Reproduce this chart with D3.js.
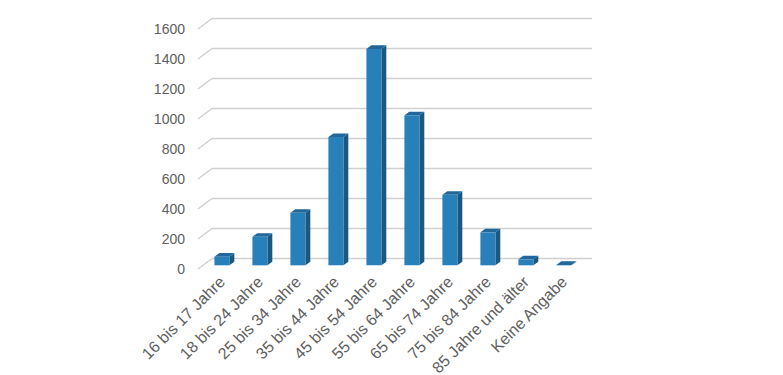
<!DOCTYPE html>
<html>
<head>
<meta charset="utf-8">
<title>Altersgruppen</title>
<style>
    body { margin: 0; background: #fff; }
    svg { display: block; font-family: "Liberation Sans", Arial, sans-serif; }
</style>
</head>
<body>
<div id="chart"></div>
<script src="https://cdn.jsdelivr.net/npm/d3@7"></script>
<script>
    // data
    var categories = ["16 bis 17 Jahre", "18 bis 24 Jahre", "25 bis 34 Jahre", "35 bis 44 Jahre",
        "45 bis 54 Jahre", "55 bis 64 Jahre", "65 bis 74 Jahre", "75 bis 84 Jahre",
        "85 Jahre und älter", "Keine Angabe"];
    var values = [57, 190, 350, 855, 1443, 1000, 470, 220, 40, 3];
    var yTicks = [0, 200, 400, 600, 800, 1000, 1200, 1400, 1600];

    var width = 783, height = 375;
    // front plane of the 3d box
    var left = 198, right = 578, zeroY = 269, plotH = 240;
    // depth offset from front to back wall
    var depthX = 14, depthY = -10.5;
    var zFront = 0.35, zBack = 0.7;

    var svg = d3.select("#chart").append("svg")
        .attr("width", width)
        .attr("height", height);

    var x = d3.scaleBand()
        .domain(categories)
        .range([left, right]);

    var y = d3.scaleLinear()
        .domain([0, 1600])
        .range([zeroY, zeroY - plotH]);

    // project point (screen x on front plane, value, depth 0..1)
    function px(sx, z) { return sx + z * depthX; }
    function py(v, z) { return y(v) + z * depthY; }

    // gridlines: diagonal on the left side, horizontal on back wall
    var grid = svg.append("g");
    yTicks.forEach(function (t) {
        grid.append("line")
            .attr("x1", px(left, 0)).attr("y1", py(t, 0))
            .attr("x2", px(left, 1)).attr("y2", py(t, 1))
            .attr("stroke", "#d0d0d0").attr("stroke-width", 1.5);
        grid.append("line")
            .attr("x1", px(left, 1)).attr("y1", py(t, 1))
            .attr("x2", px(right, 1)).attr("y2", py(t, 1))
            .attr("stroke", "#d0d0d0").attr("stroke-width", 1.5);
    });

    // y axis labels
    svg.append("g").selectAll("text")
        .data(yTicks)
        .enter().append("text")
        .attr("x", 185)
        .attr("y", function (d) { return py(d, 0); })
        .attr("dy", "0.35em")
        .attr("text-anchor", "end")
        .attr("font-size", 14)
        .attr("fill", "#606060")
        .text(function (d) { return d; });

    // bars
    var barW = 15;
    var bars = svg.append("g").selectAll("g")
        .data(categories.map(function (c, i) { return { cat: c, v: values[i] }; }))
        .enter().append("g");

    function pts(arr) { return arr.map(function (p) { return p.join(","); }).join(" "); }

    bars.each(function (d) {
        var g = d3.select(this);
        var x0 = x(d.cat) + x.bandwidth() / 2 - barW / 2;
        var x1 = x0 + barW;
        // side face
        g.append("polygon")
            .attr("points", pts([
                [px(x1, zFront), py(d.v, zFront)], [px(x1, zBack), py(d.v, zBack)],
                [px(x1, zBack), py(0, zBack)], [px(x1, zFront), py(0, zFront)]]))
            .attr("fill", "#1c5780");
        // top face
        g.append("polygon")
            .attr("points", pts([
                [px(x0, zFront), py(d.v, zFront)], [px(x1, zFront), py(d.v, zFront)],
                [px(x1, zBack), py(d.v, zBack)], [px(x0, zBack), py(d.v, zBack)]]))
            .attr("fill", "#21679a");
        // front face
        g.append("polygon")
            .attr("points", pts([
                [px(x0, zFront), py(d.v, zFront)], [px(x1, zFront), py(d.v, zFront)],
                [px(x1, zFront), py(0, zFront)], [px(x0, zFront), py(0, zFront)]]))
            .attr("fill", "#2780ba");
    });

    // x axis labels, rotated
    svg.append("g").selectAll("text")
        .data(categories)
        .enter().append("text")
        .attr("transform", function (d) {
            return "translate(" + (x(d) + x.bandwidth() / 2 + 5) + "," + 279 + ")rotate(-45)";
        })
        .attr("text-anchor", "end")
        .attr("dy", "0.35em")
        .attr("font-size", 16)
        .attr("fill", "#606060")
        .text(function (d) { return d; });
</script>
</body>
</html>
